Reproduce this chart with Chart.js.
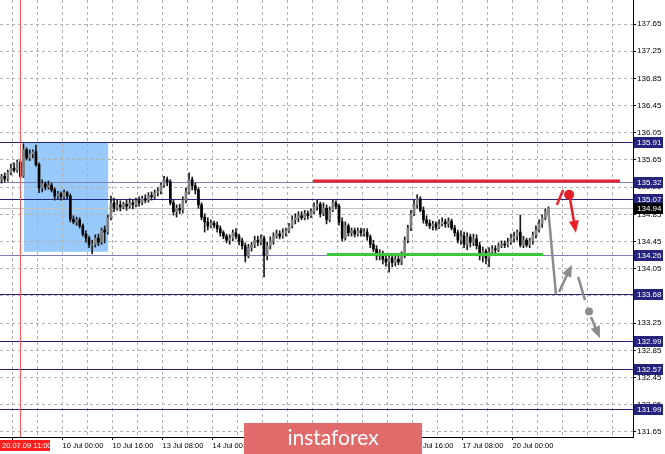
<!DOCTYPE html>
<html>
<head>
<meta charset="utf-8">
<title>USD/JPY H1</title>
<script src="https://cdn.jsdelivr.net/npm/chart.js@4.4.0/dist/chart.umd.min.js"></script>
<style>
  html, body { margin: 0; padding: 0; background: #fff; }
  canvas { display: block; }
</style>
</head>
<body>
<canvas id="chart" width="665" height="454"></canvas>
<script>
// H1 candles, one per hour
const opens = [
  135.36,135.41,135.37,135.47,135.53,135.50,135.62,135.41,135.80,135.68,
  135.74,135.77,135.58,135.24,135.30,135.25,135.28,135.21,135.12,135.15,
  135.11,135.17,135.12,134.78,134.74,134.77,134.68,134.56,134.50,134.40,
  134.41,134.50,134.44,134.62,134.59,134.80,135.02,134.94,134.99,134.96,
  135.00,134.97,135.02,134.99,135.05,135.02,135.08,135.06,135.12,135.11,
  135.17,135.19,135.28,135.36,135.33,135.02,134.89,134.94,134.91,135.06,
  135.18,135.36,135.27,135.21,134.99,134.81,134.74,134.68,134.72,134.69,
  134.64,134.58,134.53,134.47,134.50,134.58,134.53,134.46,134.39,134.24,
  134.36,134.40,134.47,134.44,134.50,134.24,134.39,134.46,134.53,134.56,
  134.53,134.58,134.61,134.68,134.77,134.80,134.83,134.80,134.86,134.83,
  134.89,134.97,135.00,134.86,134.94,134.77,134.91,135.02,134.97,134.74,
  134.50,134.68,134.58,134.61,134.56,134.61,134.58,134.59,134.52,134.41,
  134.34,134.24,134.27,134.19,134.15,134.21,134.14,134.19,134.15,134.25,
  134.47,134.65,134.86,134.99,135.08,134.91,134.77,134.72,134.68,134.71,
  134.66,134.71,134.74,134.71,134.75,134.65,134.58,134.47,134.53,134.41,
  134.52,134.44,134.49,134.39,134.24,134.31,134.21,134.30,134.34,134.33,
  134.39,134.41,134.40,134.44,134.50,134.53,134.59,134.40,134.47,134.40,
  134.46,134.55,134.62,134.71,134.80,134.89
];
const highs = [
  135.44,135.46,135.50,135.59,135.61,135.65,135.65,135.89,135.83,135.80,
  135.80,135.87,135.61,135.36,135.33,135.34,135.31,135.24,135.19,135.18,
  135.21,135.19,135.15,134.83,134.81,134.80,134.71,134.61,134.53,134.47,
  134.55,134.56,134.65,134.68,134.84,135.12,135.09,135.06,135.05,135.03,
  135.06,135.08,135.06,135.09,135.11,135.12,135.14,135.17,135.18,135.21,
  135.24,135.31,135.41,135.40,135.36,135.06,134.99,135.00,135.11,135.24,
  135.46,135.40,135.31,135.24,135.02,134.86,134.80,134.77,134.75,134.74,
  134.68,134.61,134.56,134.55,134.62,134.64,134.56,134.50,134.43,134.41,
  134.44,134.53,134.53,134.55,134.53,134.44,134.52,134.58,134.62,134.61,
  134.64,134.65,134.72,134.83,134.86,134.89,134.89,134.91,134.90,134.93,
  135.02,135.06,135.03,135.02,134.99,134.96,135.06,135.05,135.00,134.80,
  134.74,134.71,134.65,134.65,134.65,134.65,134.64,134.64,134.55,134.47,
  134.39,134.33,134.31,134.25,134.27,134.25,134.25,134.24,134.30,134.52,
  134.69,134.91,135.06,135.14,135.11,134.96,134.83,134.77,134.75,134.74,
  134.77,134.80,134.78,134.80,134.78,134.69,134.62,134.61,134.59,134.58,
  134.56,134.56,134.55,134.44,134.37,134.34,134.36,134.39,134.39,134.43,
  134.46,134.46,134.50,134.56,134.59,134.62,134.84,134.53,134.50,134.50,
  134.59,134.68,134.77,134.84,134.93,134.96
];
const lows = [
  135.31,135.33,135.34,135.43,135.47,135.47,135.39,135.39,135.65,135.64,
  135.68,135.56,135.17,135.18,135.21,135.22,135.18,135.06,135.08,135.06,
  135.08,135.08,134.74,134.71,134.69,134.65,134.53,134.44,134.36,134.27,
  134.37,134.39,134.41,134.43,134.56,134.77,134.89,134.91,134.90,134.93,
  134.91,134.94,134.93,134.96,134.97,134.99,135.02,135.03,135.06,135.08,
  135.12,135.15,135.25,135.27,134.99,134.84,134.81,134.86,134.87,135.02,
  135.15,135.21,135.15,134.94,134.77,134.59,134.62,134.65,134.65,134.59,
  134.53,134.49,134.43,134.41,134.46,134.49,134.40,134.34,134.15,134.21,
  134.31,134.36,134.39,134.40,133.93,134.18,134.34,134.41,134.50,134.49,
  134.50,134.53,134.58,134.65,134.71,134.74,134.77,134.77,134.78,134.80,
  134.86,134.91,134.81,134.83,134.71,134.74,134.89,134.93,134.69,134.46,
  134.47,134.53,134.53,134.52,134.53,134.53,134.53,134.47,134.36,134.30,
  134.18,134.18,134.12,134.09,134.00,134.08,134.09,134.11,134.11,134.21,
  134.43,134.61,134.83,134.94,134.89,134.72,134.68,134.64,134.62,134.62,
  134.64,134.68,134.66,134.66,134.62,134.53,134.43,134.41,134.36,134.33,
  134.37,134.39,134.34,134.18,134.15,134.12,134.08,134.25,134.28,134.30,
  134.36,134.36,134.37,134.41,134.44,134.47,134.37,134.36,134.37,134.36,
  134.41,134.50,134.59,134.66,134.77,134.84
];
const closes = [
  135.41,135.37,135.47,135.53,135.50,135.62,135.41,135.80,135.68,135.74,
  135.77,135.58,135.24,135.30,135.25,135.28,135.21,135.12,135.15,135.11,
  135.17,135.12,134.78,134.74,134.77,134.68,134.56,134.50,134.40,134.41,
  134.50,134.44,134.62,134.59,134.80,135.02,134.94,134.99,134.96,135.00,
  134.97,135.02,134.99,135.05,135.02,135.08,135.06,135.12,135.11,135.17,
  135.19,135.28,135.36,135.33,135.02,134.89,134.94,134.91,135.06,135.18,
  135.36,135.27,135.21,134.99,134.81,134.74,134.68,134.72,134.69,134.64,
  134.58,134.53,134.47,134.50,134.58,134.53,134.46,134.39,134.24,134.36,
  134.40,134.47,134.44,134.50,134.24,134.39,134.46,134.53,134.56,134.53,
  134.58,134.61,134.68,134.77,134.80,134.83,134.80,134.86,134.83,134.89,
  134.97,135.00,134.86,134.94,134.77,134.91,135.02,134.97,134.74,134.50,
  134.68,134.58,134.61,134.56,134.61,134.58,134.59,134.52,134.41,134.34,
  134.24,134.27,134.19,134.15,134.21,134.14,134.19,134.15,134.25,134.47,
  134.65,134.86,134.99,135.08,134.91,134.77,134.72,134.68,134.71,134.66,
  134.71,134.74,134.71,134.75,134.65,134.58,134.47,134.53,134.41,134.52,
  134.44,134.49,134.39,134.24,134.31,134.21,134.30,134.34,134.33,134.39,
  134.41,134.40,134.44,134.50,134.53,134.59,134.40,134.47,134.40,134.46,
  134.55,134.62,134.71,134.80,134.89,134.94
];

// axes
const priceTicks = [131.65,132.05,132.45,132.85,133.25,133.65,134.05,134.45,134.85,135.25,135.65,136.05,136.45,136.85,137.25,137.65];
const gridHours = [4,12,20,28,36,44,52,60,68,76,84,92,100,108,116,124,132,140,148,156,164,172,180,188,196];
const labelHours = [4,20,36,52,68,84,100,116,132,148,164];
const timeLabels = ['9 Jul 08:00','10 Jul 00:00','10 Jul 16:00','13 Jul 08:00','14 Jul 00:00','14 Jul 16:00','15 Jul 08:00','16 Jul 00:00','16 Jul 16:00','17 Jul 08:00','20 Jul 00:00'];

// drawn objects (hour index, price)
const levelPrices = [135.91, 135.32, 135.07, 134.26, 133.68, 132.99, 132.57, 131.99];
const bidPrice = 134.94;
const resistance = { price: 135.34, from: 100.2, to: 198.4 };
const support = { price: 134.26, from: 104.6, to: 173.8 };
const zone = { from: 7.7, to: 34.6, top: 135.91, bottom: 134.30 };
const eventHour = 6.4;
const eventLabel = '20.07.09 11:00';
const grayPaths = [
  { pts: [[175.4, 134.94], [177.9, 133.68]], head: false },
  { pts: [[178.9, 133.71], [183.0, 134.11]], head: true },
  { pts: [[185.0, 133.93], [187.2, 133.59]], head: false },
  { pts: [[189.1, 133.34], [192.0, 133.03]], head: true }
];
const grayDots = [[188.5, 133.42]];
const redPaths = [
  { pts: [[178.2, 134.99], [180.2, 135.21]], head: false },
  { pts: [[182.4, 135.08], [184.3, 134.58]], head: true }
];
const redDots = [[182.1, 135.14]];

Chart.defaults.font.family = '"Liberation Sans", Arial, sans-serif';

const NAVY = '#24247e';
const SOFT_NAVY = '#7d7db8';
const softLevels = [135.32, 134.26];

function arrow(ctx, x1, y1, x2, y2, color, head) {
  const a = Math.atan2(y2 - y1, x2 - x1);
  const L = 12, W = 5;
  ctx.strokeStyle = color;
  ctx.fillStyle = color;
  ctx.lineWidth = 2.5;
  ctx.beginPath();
  ctx.moveTo(x1, y1);
  if (head) ctx.lineTo(x2 - Math.cos(a) * L * 0.7, y2 - Math.sin(a) * L * 0.7);
  else ctx.lineTo(x2, y2);
  ctx.stroke();
  if (head) {
    const bx = x2 - Math.cos(a) * L, by = y2 - Math.sin(a) * L;
    ctx.beginPath();
    ctx.moveTo(x2, y2);
    ctx.lineTo(bx + Math.sin(a) * W, by - Math.cos(a) * W);
    ctx.lineTo(bx - Math.sin(a) * W, by + Math.cos(a) * W);
    ctx.closePath();
    ctx.fill();
  }
}

const overlay = {
  id: 'overlay',
  beforeDraw(chart) {
    const { ctx, scales: { x, y } } = chart;
    const x0 = x.getPixelForValue(zone.from), x1 = x.getPixelForValue(zone.to);
    const y0 = y.getPixelForValue(zone.top), y1 = y.getPixelForValue(zone.bottom);
    ctx.save();
    ctx.fillStyle = '#97c9fb';
    ctx.fillRect(x0, y0, x1 - x0, y1 - y0);
    ctx.restore();
  },
  beforeDatasetsDraw(chart) {
    const { ctx, chartArea: a, scales: { y } } = chart;
    ctx.save();
    ctx.lineWidth = 1;
    // bid line
    let py = Math.round(y.getPixelForValue(bidPrice)) + 0.5;
    ctx.strokeStyle = '#c4c4c4';
    ctx.beginPath(); ctx.moveTo(a.left, py); ctx.lineTo(a.right, py); ctx.stroke();
    levelPrices.forEach(p => {
      py = Math.round(y.getPixelForValue(p)) + 0.5;
      ctx.strokeStyle = softLevels.includes(p) ? SOFT_NAVY : NAVY;
      ctx.beginPath(); ctx.moveTo(a.left, py); ctx.lineTo(a.right, py); ctx.stroke();
    });
    ctx.restore();
  },
  afterDatasetsDraw(chart) {
    const { ctx, chartArea: a, scales: { x, y } } = chart;
    ctx.save();
    // event line
    const ex = Math.round(x.getPixelForValue(eventHour)) + 0.5;
    ctx.strokeStyle = '#ff5a5a';
    ctx.lineWidth = 1;
    ctx.beginPath(); ctx.moveTo(ex, a.top); ctx.lineTo(ex, a.bottom); ctx.stroke();
    // thick levels
    ctx.lineWidth = 3;
    ctx.strokeStyle = '#e3222e';
    let py = y.getPixelForValue(resistance.price);
    ctx.beginPath(); ctx.moveTo(x.getPixelForValue(resistance.from), py); ctx.lineTo(x.getPixelForValue(resistance.to), py); ctx.stroke();
    ctx.strokeStyle = '#3cc83c';
    py = y.getPixelForValue(support.price);
    ctx.beginPath(); ctx.moveTo(x.getPixelForValue(support.from), py); ctx.lineTo(x.getPixelForValue(support.to), py); ctx.stroke();
    // forecast arrows
    const paths = [[grayPaths, '#8c8c8c'], [redPaths, '#ea1f27']];
    paths.forEach(([list, color]) => list.forEach(s => {
      arrow(ctx, x.getPixelForValue(s.pts[0][0]), y.getPixelForValue(s.pts[0][1]),
        x.getPixelForValue(s.pts[1][0]), y.getPixelForValue(s.pts[1][1]), color, s.head);
    }));
    [[grayDots, '#8c8c8c', 4], [redDots, '#ea1f27', 5]].forEach(([list, color, r]) => list.forEach(d => {
      ctx.fillStyle = color;
      ctx.beginPath();
      ctx.arc(x.getPixelForValue(d[0]), y.getPixelForValue(d[1]), r, 0, Math.PI * 2);
      ctx.fill();
    }));
    ctx.restore();
  },
  afterDraw(chart) {
    const { ctx, chartArea: a, scales: { x, y } } = chart;
    ctx.save();
    ctx.font = '8px "Liberation Sans", Arial, sans-serif';
    ctx.textBaseline = 'middle';
    ctx.textAlign = 'left';
    const tag = (p, bg) => {
      const py = Math.round(y.getPixelForValue(p));
      ctx.fillStyle = bg;
      ctx.fillRect(a.right + 1, py - 5, 29, 11);
      ctx.fillStyle = '#fff';
      ctx.fillText(p.toFixed(2), a.right + 4, py + 0.5);
    };
    levelPrices.forEach(p => tag(p, NAVY));
    tag(bidPrice, '#000');
    // event time label
    ctx.fillStyle = '#ff1f1f';
    ctx.fillRect(0, a.bottom + 3, 50, 11);
    ctx.fillStyle = '#fff';
    ctx.font = '7.5px "Liberation Sans", Arial, sans-serif';
    ctx.fillText(eventLabel, 2, a.bottom + 9);
    // watermark
    ctx.fillStyle = '#e16a6a';
    ctx.fillRect(244, 423, 178, 31);
    ctx.fillStyle = '#fff';
    ctx.textAlign = 'center';
    ctx.font = '21px Lato, "Open Sans", sans-serif';
    ctx.fillText('instaforex', 333, 438);
    ctx.restore();
  }
};

new Chart(document.getElementById('chart'), {
  type: 'bar',
  data: {
    datasets: [
      {
        label: 'body',
        data: closes.map((c, i) => ({ x: i + 0.5, y: [opens[i], c] })),
        backgroundColor: ctx => closes[ctx.dataIndex] >= opens[ctx.dataIndex] ? '#808080' : '#000',
        barThickness: 2,
        minBarLength: 1,
        grouped: false,
        order: 0
      },
      {
        label: 'wick',
        data: highs.map((h, i) => ({ x: i + 0.5, y: [lows[i], h] })),
        backgroundColor: '#1a1a1a',
        barThickness: 1,
        grouped: false,
        order: 1
      }
    ]
  },
  options: {
    responsive: false,
    animation: false,
    events: [],
    layout: { padding: 0 },
    plugins: { legend: { display: false }, tooltip: { enabled: false }, title: { display: false } },
    scales: {
      x: {
        type: 'linear',
        min: 0,
        max: 202.56,
        offset: false,
        afterBuildTicks: s => { s.ticks = gridHours.map(v => ({ value: v })); },
        afterFit: s => { s.height = 17; s.paddingLeft = 0; s.paddingRight = 0; },
        grid: {
          offset: false,
          color: '#b0b0b0',
          tickLength: 3,
          tickColor: c => (c.tick && labelHours.includes(c.tick.value)) ? '#000' : 'rgba(0,0,0,0)'
        },
        border: { color: '#000', width: 1, dash: [3, 3] },
        ticks: {
          autoSkip: false,
          maxRotation: 0,
          minRotation: 0,
          align: 'start',
          padding: 1,
          color: '#000',
          font: { size: 7.5 },
          callback: v => { const k = labelHours.indexOf(v); return k >= 0 ? timeLabels[k] : ''; }
        }
      },
      y: {
        position: 'right',
        min: 131.576,
        max: 138.003,
        afterBuildTicks: s => { s.ticks = priceTicks.map(v => ({ value: v })); },
        afterFit: s => { s.width = 32; s.paddingTop = 0; s.paddingBottom = 0; },
        grid: { color: '#b0b0b0', tickLength: 3, tickColor: '#000' },
        border: { color: '#000', width: 1, dash: [3, 3] },
        ticks: {
          padding: 1,
          color: '#000',
          font: { size: 8 },
          callback: v => v.toFixed(2)
        }
      }
    }
  },
  plugins: [overlay]
});
</script>
</body>
</html>
